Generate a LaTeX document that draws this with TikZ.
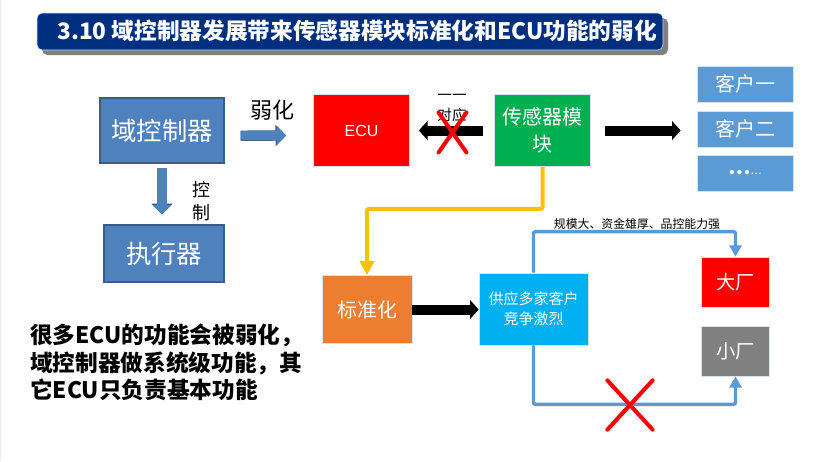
\documentclass[tikz,border=0pt]{standalone}
\usepackage{fontspec}
\setmainfont{Noto Sans CJK SC}
\newfontfamily\latinfont{Liberation Sans}
\usetikzlibrary{
    arrows.meta,  % arrow tips
    shadows,  % title bar shadow
    shapes.misc,  % cross out
}
\definecolor{titleblue}{HTML}{002F7F}
\definecolor{steel}{HTML}{4F81BD}
\definecolor{steeldark}{HTML}{385D8A}
\definecolor{sky}{HTML}{5B9BD5}
\definecolor{glow}{HTML}{D5E3F0}
\definecolor{leaf}{HTML}{00B050}
\definecolor{tangerine}{HTML}{ED7D31}
\definecolor{cyanbox}{HTML}{00B0F0}
\definecolor{amber}{HTML}{FFC000}
\tikzset{
    box/.style={draw=glow, line width=0.5pt, text=white, align=center, inner sep=0pt},
    steelbox/.style={box, draw=steeldark, line width=1pt, fill=steel, font=\fontsize{19}{23}\selectfont},
    fatarrow/.style={line width=7.5pt, draw=black, -{Triangle[length=6.5pt, width=14pt]}},
    steelarrow/.style={line width=6.8pt, draw=steel, -{Triangle[length=7pt, width=14pt]},
        preaction={draw=steeldark, line width=7.8pt, -{Triangle[length=8pt, width=15.5pt]}}},
    skyarrow/.style={line width=2.6pt, draw=sky, rounded corners=1.5pt, -{Triangle[length=8.5pt, width=9pt]}},
    crossmark/.style={cross out, draw=red, line width=3pt, line cap=round, inner sep=0pt},
    lbl/.style={text=black, align=center, inner sep=0pt},
}
\begin{document}
\begin{tikzpicture}[x=0.75pt, y=-0.75pt]
    \useasboundingbox (0, 0) rectangle (820, 461);
    \fill[black!8] (0, 0) rectangle (1, 461);

    \node[draw=glow, fill=titleblue, rounded corners=4pt, minimum width=469.5pt, minimum height=27.75pt,
        drop shadow={shadow xshift=3.75pt, shadow yshift=-3.75pt, fill=black!50, opacity=1}] (titlebar) at (350, 31.5) {};
    \node[anchor=west, text=white, inner sep=0pt, font=\fontsize{17}{20}\selectfont\bfseries] (titletext) at (57, 31)
        {3.10 域控制器发展带来传感器模块标准化和ECU功能的弱化};

    \node[steelbox, minimum width=93pt, minimum height=48.75pt] (domain) at (162, 130.5) {域控制器};
    \node[steelbox, minimum width=90pt, minimum height=42.75pt] (actuator) at (164, 253.5) {执行器};
    \node[box, fill=red, minimum width=72pt, minimum height=54pt, font=\latinfont\fontsize{12}{15}\selectfont] (ecu) at (361.5, 130.5) {ECU};
    \node[box, fill=leaf, minimum width=72pt, minimum height=54pt,
        font=\fontsize{15}{20.25}\selectfont] (sensor) at (542.5, 130.5) {传感器模\\块};

    \foreach \name/\y/\txt in {custa/84/客户一, custb/129/客户二}
        \node[box, fill=sky, minimum width=72pt, minimum height=27pt, font=\fontsize{15}{18}\selectfont] (\name) at (745, \y) {\txt};
    \node[box, fill=sky, minimum width=72pt, minimum height=27pt, font=\fontsize{15}{18}\selectfont] (custc) at (745, 173)
        {{\bfseries …}{\latinfont\fontsize{10}{12}\selectfont ...}};

    \node[box, fill=tangerine, minimum width=67.5pt, minimum height=51pt, font=\fontsize{15}{18}\selectfont] (standard) at (367, 309.5) {标准化};
    \node[box, fill=cyanbox, minimum width=81.75pt, minimum height=54pt, font=\fontsize{11.25}{15}\selectfont] (supply) at (533.5, 309) {供应多家客户\\竞争激烈};
    \node[box, fill=red, minimum width=51pt, minimum height=37.5pt, font=\fontsize{14.5}{18}\selectfont] (big) at (735.5, 282) {大厂};
    \node[box, fill=black!50, minimum width=51pt, minimum height=37.5pt, font=\fontsize{14.5}{18}\selectfont] (small) at (735.5, 351) {小厂};

    \draw[steelarrow, shorten <=12pt, shorten >=20.25pt] ([yshift=-4pt]domain.east) -- ([yshift=-3.6pt]ecu.west);
    \draw[steelarrow, shorten <=3pt, shorten >=7.5pt] (domain.south) -- (domain.south |- actuator.north);
    \draw[fatarrow, shorten <=8.25pt, shorten >=6.75pt] (sensor.west) -- (ecu.east);
    \draw[fatarrow, shorten <=10.5pt, shorten >=12pt] (sensor.east) -- (sensor.east -| custb.west);
    \draw[fatarrow] (standard.east) -- (standard.east -| supply.west);
    \draw[line width=3pt, draw=amber, rounded corners=1.5pt, -{Triangle[length=10.5pt, width=10.5pt]}]
        (sensor.south) -- ++(0, 42) -| (standard.north);
    \draw[skyarrow] (supply.north) -- ++(0, -41) -| (big.north);
    \draw[skyarrow] (supply.south) -- ++(0, 59) -| (small.south);

    \node[lbl, font=\fontsize{16.5}{20}\selectfont] (weaken) at (272, 110) {弱化};
    \node[lbl, font=\fontsize{13.5}{17.25}\selectfont] (control) at (201, 201) {控\\制};
    \node[lbl, font=\fontsize{10.9}{15}\selectfont] (match) at (452, 108) {一一\\对应};
    \node[lbl, font=\fontsize{8.9}{11}\selectfont] (scale) at (637, 223.5) {规模大、资金雄厚、品控能力强};
    \node[lbl, align=left, anchor=west, font=\fontsize{17}{20.6}\selectfont\bfseries] (note) at (30, 362.5)
        {很多ECU的功能会被弱化，\\域控制器做系统级功能，其\\它ECU只负责基本功能};

    \node[crossmark, minimum width=18pt, minimum height=27pt] (crossa) at (452.5, 132.5) {};
    \node[crossmark, minimum width=31pt, minimum height=34pt] (crossb) at (630, 405) {};
\end{tikzpicture}
\end{document}
